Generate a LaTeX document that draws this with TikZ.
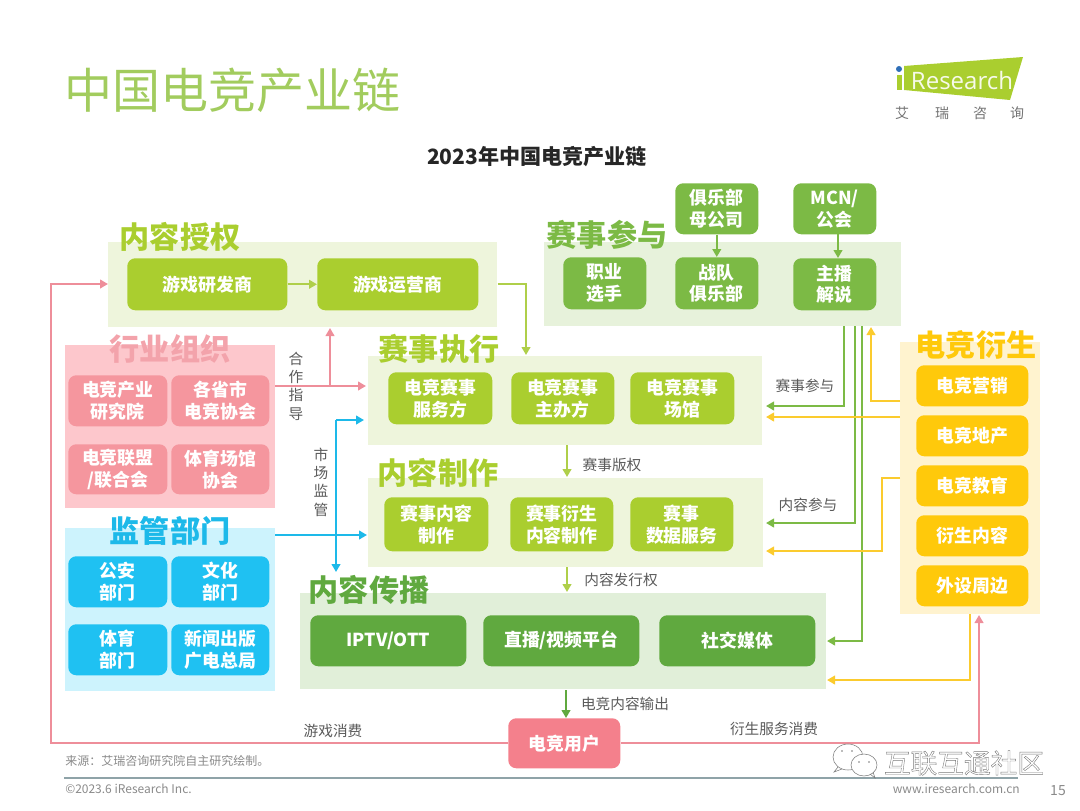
\documentclass[tikz,border=0pt]{standalone}
\usepackage{fontspec}
\setmainfont{Noto Sans CJK SC}
\newfontfamily\logofont{Open Sans}
\usepackage{xcolor}
\usetikzlibrary{calc,arrows.meta,positioning}

\definecolor{limeBox}{HTML}{AACE2F}
\definecolor{limePanel}{HTML}{EEF5DC}
\definecolor{limeLine}{HTML}{AFCF4A}
\definecolor{leafBox}{HTML}{7CBA45}
\definecolor{leafPanel}{HTML}{E7F2DB}
\definecolor{mossBox}{HTML}{60A93F}
\definecolor{mossPanel}{HTML}{E1EFD9}
\definecolor{roseBox}{HTML}{F5969E}
\definecolor{rosePanel}{HTML}{FDC7CC}
\definecolor{roseTitle}{HTML}{F3A3AB}
\definecolor{roseLine}{HTML}{EE8E9A}
\definecolor{userBox}{HTML}{F4808C}
\definecolor{skyBox}{HTML}{1FC1F2}
\definecolor{skyPanel}{HTML}{CDF3FD}
\definecolor{skyTitle}{HTML}{1DB9E9}
\definecolor{sunBox}{HTML}{FFC90B}
\definecolor{sunPanel}{HTML}{FFF3CF}
\definecolor{sunLine}{HTML}{FBCB2E}
\definecolor{headGreen}{HTML}{A2CC5E}
\definecolor{noteGray}{HTML}{5A5A5A}
\definecolor{footGray}{HTML}{8A8A8A}
\definecolor{ruleGray}{HTML}{8FA3A8}
\definecolor{logoBlue}{HTML}{2F6FB7}
\definecolor{markGray}{HTML}{7A7A7A}

\tikzset{
  wh/.style 2 args={minimum width=#1*0.75pt, minimum height=#2*0.75pt},
  panel/.style={anchor=north west, inner sep=0pt},
  card/.style={anchor=north west, inner sep=0pt, rounded corners=6pt, text=white, align=center,
    font=\bfseries\fontsize{13.4}{16.3}\selectfont},
  heading/.style={inner sep=0pt, font=\bfseries\fontsize{22.6}{24}\selectfont},
  note/.style={inner sep=0pt, text=noteGray, align=center, font=\fontsize{11}{13.8}\selectfont},
  foot/.style={inner sep=0pt, text=footGray, font=\fontsize{9}{10}\selectfont},
  link/.style={line width=1.5pt, -{Triangle[length=6pt,width=6.5pt]}},
  markline/.style={markGray, line width=0.4pt},
}

\begin{document}
\begin{tikzpicture}[x=0.75pt, y=-0.75pt, line join=miter]
\useasboundingbox (0,0) rectangle (1080,810);

% ---------------------------------------------------------
% Page heading
% ---------------------------------------------------------
\node[inner sep=0pt, anchor=west, text=headGreen, font=\fontsize{36}{38}\selectfont] (pageTitle) at (64,90) {中国电竞产业链};
\node[inner sep=0pt, text=black!85, font=\bfseries\fontsize{15.8}{17}\selectfont] (chartTitle) at (537,157) {2023年中国电竞产业链};

% ---------------------------------------------------------
% Logo
% ---------------------------------------------------------
\fill[limeBox] (904,66) -- (1023,57) -- (1010,100) -- (904,90) -- cycle;
\fill[limeBox] (897,75) rectangle (902,90);
\fill[logoBlue] (899,69) circle (3);
\node[inner sep=0pt, text=white!90!limeBox, font=\logofont\fontsize{18}{20}\selectfont] (logoWord) at (962,80) {Research};
\foreach \xpos/\ch/\nm in {902/艾/logoA, 942/瑞/logoB, 980/咨/logoC, 1017/询/logoD}
  \node[inner sep=0pt, text=black!55, font=\fontsize{10.5}{12}\selectfont] (\nm) at (\xpos,113) {\ch};

% ---------------------------------------------------------
% Panels
% ---------------------------------------------------------
\node[panel, fill=limePanel, wh={389}{85}] (panelLicense) at (108,242) {};
\node[panel, fill=rosePanel, wh={210}{163}] (panelGuild) at (65,345) {};
\node[panel, fill=skyPanel, wh={210}{163}] (panelGov) at (65,528) {};
\node[panel, fill=limePanel, wh={394}{89}] (panelExec) at (368,356) {};
\node[panel, fill=limePanel, wh={395}{89}] (panelMake) at (368,478) {};
\node[panel, fill=mossPanel, wh={526}{96}] (panelSpread) at (300,593) {};
\node[panel, fill=leafPanel, wh={357}{84}] (panelPlay) at (544,242) {};
\node[panel, fill=sunPanel, wh={140}{272}] (panelDerive) at (900,342) {};

% ---------------------------------------------------------
% Panel titles
% ---------------------------------------------------------
\node[heading, text=limeBox] (titleLicense) at (180,237) {内容授权};
\node[heading, text=roseTitle] (titleGuild) at (170,349) {行业组织};
\node[heading, text=skyTitle] (titleGov) at (170,531) {监管部门};
\node[heading, text=limeBox] (titleExec) at (439,349) {赛事执行};
\node[heading, text=limeBox] (titleMake) at (438,473) {内容制作};
\node[heading, text=mossBox] (titleSpread) at (369,590) {内容传播};
\node[heading, text=leafBox] (titlePlay) at (607,235) {赛事参与};
\node[heading, text=sunBox] (titleDerive) at (976,345) {电竞衍生};

% ---------------------------------------------------------
% Cards, lime
% ---------------------------------------------------------
\node[card, fill=limeBox, wh={160}{52}] (boxDev) at (127,258) {游戏研发商};
\node[card, fill=limeBox, wh={161}{52}] (boxOper) at (317,258) {游戏运营商};
\node[card, fill=limeBox, wh={104}{52}] (boxServ) at (388,372) {电竞赛事\\服务方};
\node[card, fill=limeBox, wh={103}{52}] (boxHost) at (511,372) {电竞赛事\\主办方};
\node[card, fill=limeBox, wh={104}{52}] (boxVenue) at (630,372) {电竞赛事\\场馆};
\node[card, fill=limeBox, wh={104}{54}] (boxProd) at (384,497) {赛事内容\\制作};
\node[card, fill=limeBox, wh={103}{54}] (boxSide) at (510,497) {赛事衍生\\内容制作};
\node[card, fill=limeBox, wh={103}{54}] (boxData) at (630,497) {赛事\\数据服务};

% ---------------------------------------------------------
% Cards, rose and sky
% ---------------------------------------------------------
\node[card, fill=roseBox, wh={99}{51}] (boxInst) at (68,375) {电竞产业\\研究院};
\node[card, fill=roseBox, wh={98}{51}] (boxProv) at (171,375) {各省市\\电竞协会};
\node[card, fill=roseBox, wh={99}{50}] (boxLeague) at (68,444) {电竞联盟\\/联合会};
\node[card, fill=roseBox, wh={98}{50}] (boxArena) at (171,444) {体育场馆\\协会};
\node[card, fill=skyBox, wh={99}{51}] (boxPolice) at (68,556) {公安\\部门};
\node[card, fill=skyBox, wh={98}{51}] (boxCulture) at (171,556) {文化\\部门};
\node[card, fill=skyBox, wh={99}{51}] (boxSport) at (68,624) {体育\\部门};
\node[card, fill=skyBox, wh={98}{51}] (boxPress) at (171,624) {新闻出版\\广电总局};

% ---------------------------------------------------------
% Cards, moss and leaf
% ---------------------------------------------------------
\node[card, fill=mossBox, wh={156}{51}] (boxIptv) at (310,615) {IPTV/OTT};
\node[card, fill=mossBox, wh={156}{51}] (boxLive) at (483,615) {直播/视频平台};
\node[card, fill=mossBox, wh={156}{51}] (boxSocial) at (659,615) {社交媒体};
\node[card, fill=leafBox, wh={83}{52}] (boxPro) at (563,257) {职业\\选手};
\node[card, fill=leafBox, wh={83}{52}] (boxTeam) at (675,257) {战队\\俱乐部};
\node[card, fill=leafBox, wh={83}{52}] (boxCaster) at (793,258) {主播\\解说};
\node[card, fill=leafBox, wh={83}{51}] (boxParent) at (675,183) {俱乐部\\母公司};
\node[card, fill=leafBox, wh={83}{51}] (boxMcn) at (793,183) {MCN/\\公会};

% ---------------------------------------------------------
% Cards, sun and user
% ---------------------------------------------------------
\node[card, fill=sunBox, wh={112}{41}] (boxMarket) at (916,365) {电竞营销};
\node[card, fill=sunBox, wh={112}{41}] (boxEstate) at (916,415) {电竞地产};
\node[card, fill=sunBox, wh={112}{41}] (boxEdu) at (916,465) {电竞教育};
\node[card, fill=sunBox, wh={112}{41}] (boxSub) at (916,515) {衍生内容};
\node[card, fill=sunBox, wh={112}{41}] (boxGear) at (916,565) {外设周边};
\node[card, fill=userBox, wh={112}{50}] (boxUser) at (508,718) {电竞用户};

% ---------------------------------------------------------
% Lime and leaf connectors
% ---------------------------------------------------------
\coordinate (execIn) at (526,355);
\draw[link, limeLine] (boxDev) -- (boxOper);
\draw[link, limeLine] (panelLicense.east |- boxOper) -| (execIn);
\coordinate (rightsTop) at (567,445);
\coordinate (rightsEnd) at (567,477);
\coordinate (issueTop) at (567,567);
\coordinate (issueEnd) at (567,592);
\coordinate (outTop) at (566,690);
\draw[link, limeLine] (rightsTop) -- (rightsEnd);
\draw[link, limeLine] (issueTop) -- (issueEnd);
\draw[link, mossBox] (outTop) -- (outTop |- boxUser.north);
\draw[link, leafBox] (boxParent) -- (boxTeam);
\coordinate (mcnOut) at (838,234);
\draw[link, leafBox] (mcnOut) -- (mcnOut |- boxCaster.north);

\coordinate (playA) at (844,326);
\coordinate (playB) at (855,326);
\coordinate (playC) at (862,326);
\coordinate (execEnd) at (766,406);
\coordinate (makeEnd) at (766,523);
\coordinate (spreadEnd) at (827,641);
\draw[link, leafBox] (playA) |- (execEnd);
\draw[link, leafBox] (playB) |- (makeEnd);
\draw[link, leafBox] (playC) |- (spreadEnd);

% ---------------------------------------------------------
% Sun connectors
% ---------------------------------------------------------
\coordinate (marketOut) at (900,401);
\coordinate (playIn) at (871,327);
\coordinate (estateOut) at (900,417);
\coordinate (execSun) at (766,417);
\coordinate (eduOut) at (900,478);
\coordinate (eduBend) at (882,478);
\coordinate (makeSun) at (766,551);
\coordinate (gearOut) at (970,614);
\coordinate (spreadSun) at (827,680);
\draw[link, sunLine] (marketOut) -| (playIn);
\draw[link, sunLine] (estateOut) -- (execSun);
\draw[link, sunLine] (eduOut) -- (eduBend) |- (makeSun);
\draw[link, sunLine] (gearOut) |- (spreadSun);

% ---------------------------------------------------------
% Rose connectors
% ---------------------------------------------------------
\coordinate (guildOut) at (275,386);
\coordinate (guildIn) at (366,386);
\coordinate (guildFork) at (330,386);
\coordinate (licenseIn) at (330,328);
\draw[link, roseLine] (guildOut) -- (guildIn);
\draw[link, roseLine] (guildFork) -- (licenseIn);
\coordinate (gameBend) at (51,284);
\coordinate (deriveIn) at (979,615);
\draw[link, roseLine] (boxUser.west |- 0,743) -| (gameBend) -- (panelLicense.west |- gameBend);
\draw[link, roseLine] (boxUser.east |- 0,743) -| (deriveIn);

% ---------------------------------------------------------
% Sky connectors
% ---------------------------------------------------------
\coordinate (govOut) at (275,535);
\coordinate (govIn) at (367,535);
\coordinate (execSky) at (364,420);
\coordinate (skyBend) at (336,420);
\coordinate (spreadSky) at (336,572);
\draw[link, skyTitle] (govOut) -- (govIn);
\draw[link, skyTitle] (skyBend) -- (execSky);
\draw[link, skyTitle] (skyBend) -- (spreadSky);

% ---------------------------------------------------------
% Connector labels
% ---------------------------------------------------------
\node[note] (noteCoop) at (296,386) {合\\作\\指\\导};
\node[note] (noteWatch) at (321,482) {市\\场\\监\\管};
\node[note] (notePlayA) at (805,386) {赛事参与};
\node[note] (notePlayB) at (808,505) {内容参与};
\node[note] (noteRights) at (612,465) {赛事版权};
\node[note] (noteIssue) at (621,580) {内容发行权};
\node[note] (noteOut) at (625,704) {电竞内容输出};
\node[note] (noteGame) at (333,731) {游戏消费};
\node[note] (noteDerive) at (774,729) {衍生服务消费};

% ---------------------------------------------------------
% Footer
% ---------------------------------------------------------
\draw[line width=0.8pt, ruleGray] (64,778) -- (1018,778);
\node[foot, anchor=west] (footSource) at (65,761) {来源：艾瑞咨询研究院自主研究绘制。};
\node[foot, anchor=west] (footCopy) at (65,789) {©2023.6 iResearch Inc.};
\node[foot, anchor=east] (footSite) at (1020,789) {www.iresearch.com.cn};
\node[foot, font=\fontsize{10.5}{12}\selectfont] (footPage) at (1058,791) {15};

% ---------------------------------------------------------
% Watermark
% ---------------------------------------------------------
\draw[markline, fill=white] (848,757) ellipse (15 and 13);
\draw[markline] (838,767) -- (834,772) -- (842,769);
\draw[markline, fill=white] (864,765) ellipse (13 and 11);
\draw[markline] (870,774) -- (875,778) -- (873,772);
\foreach \xpos/\ypos in {842/751, 852/751, 859/762, 869/762}
  \fill[markGray] (\xpos,\ypos) circle (0.9);
\node[inner sep=0pt, text=markGray, font=\fontsize{20}{22}\selectfont] (markText) at (964,763)
  {\special{pdf:code 1 Tr 0.3 w}互联互通社区\special{pdf:code 0 Tr}};

\end{tikzpicture}
\end{document}
